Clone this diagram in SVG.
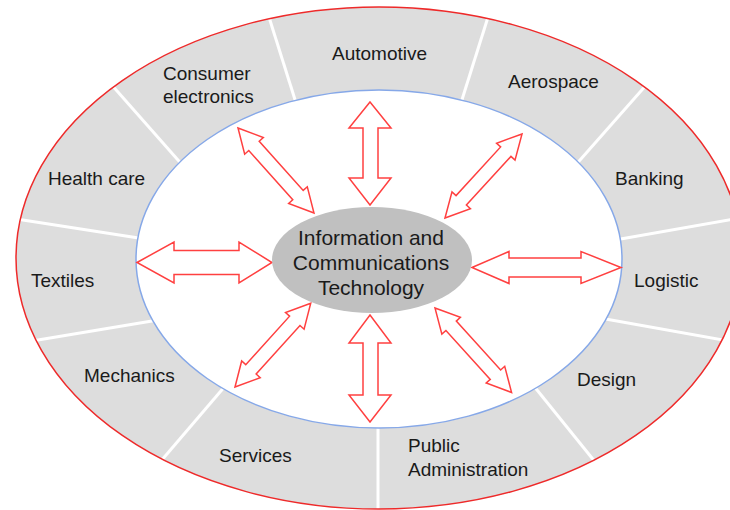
<svg xmlns="http://www.w3.org/2000/svg" width="730" height="510" viewBox="0 0 730 510">
<style>
.lbl{font-family:"Liberation Sans",Arial,sans-serif;font-size:19px;fill:#1a1a1a}
.ctr{font-family:"Liberation Sans",Arial,sans-serif;font-size:21px;fill:#1a1a1a;text-anchor:middle}
.div{stroke:#ffffff;stroke-width:3}
.arr{fill:#ffffff;stroke:#ff4040;stroke-width:1.5;stroke-linejoin:miter}
</style>
<defs>
<polygon id="diag" points="0,0 24,-12.5 24,-7 90,-7 90,-12.5 114,0 90,12.5 90,7 24,7 24,12.5"/>
</defs>
<rect x="0" y="0" width="730" height="510" fill="#ffffff"/>
<g id="ring">
<ellipse cx="379" cy="258" rx="363" ry="251" fill="#dddddd"/>
<g id="dividers">
<line class="div" x1="185" y1="168" x2="110" y2="83"/>
<line class="div" x1="297" y1="106" x2="268" y2="14"/>
<line class="div" x1="460" y1="106" x2="489" y2="14"/>
<line class="div" x1="573" y1="168" x2="648" y2="83"/>
<line class="div" x1="615" y1="240" x2="745" y2="217"/>
<line class="div" x1="145" y1="239" x2="10" y2="218"/>
<line class="div" x1="158" y1="320" x2="20" y2="343"/>
<line class="div" x1="226" y1="385" x2="155" y2="468"/>
<line class="div" x1="378" y1="425" x2="378" y2="515"/>
<line class="div" x1="533" y1="385" x2="600" y2="468"/>
<line class="div" x1="600" y1="318" x2="740" y2="343"/>
</g>
<ellipse cx="379" cy="259" rx="243" ry="169" fill="#ffffff" stroke="#86a8e8" stroke-width="1.5"/>
<ellipse cx="379" cy="258" rx="363" ry="251" fill="none" stroke="#ee2a2a" stroke-width="1.5"/>
</g>
<g id="connectors">
<polygon class="arr" points="370,102 391,128 378,128 378,178 391,178 370,205 349,178 363,178 363,128 349,128"/>
<polygon class="arr" points="370,315 391,343 378,343 378,395 391,395 370,422 349,395 363,395 363,343 349,343"/>
<polygon class="arr" points="137,262.5 174,242 174,250.5 239,250.5 239,242 272,262.5 239,283 239,274.5 174,274.5 174,283"/>
<polygon class="arr" points="472,267.5 509,251.5 509,258 581,258 581,251.5 621,267.5 581,283.5 581,277 509,277 509,283.5"/>
<use href="#diag" class="arr" transform="translate(238,128) rotate(48.2)"/>
<use href="#diag" class="arr" transform="translate(445,218) rotate(-47.5)"/>
<use href="#diag" class="arr" transform="translate(235,387) rotate(-47.9) scale(0.991,1)"/>
<use href="#diag" class="arr" transform="translate(435,308) rotate(47.8)"/>
</g>
<g id="ict">
<ellipse cx="372" cy="260" rx="100" ry="53" fill="#c0c0c0"/>
<text class="ctr" x="371" y="245">Information and</text>
<text class="ctr" x="371" y="270">Communications</text>
<text class="ctr" x="371" y="295">Technology</text>
</g>
<g id="automotive"><text class="lbl" x="332" y="60">Automotive</text></g>
<g id="consumer-electronics"><text class="lbl" x="163" y="80">Consumer</text><text class="lbl" x="163" y="103">electronics</text></g>
<g id="aerospace"><text class="lbl" x="508" y="88">Aerospace</text></g>
<g id="health-care"><text class="lbl" x="48" y="185">Health care</text></g>
<g id="banking"><text class="lbl" x="615" y="185">Banking</text></g>
<g id="textiles"><text class="lbl" x="31" y="287">Textiles</text></g>
<g id="logistic"><text class="lbl" x="634" y="287">Logistic</text></g>
<g id="mechanics"><text class="lbl" x="84" y="382">Mechanics</text></g>
<g id="design"><text class="lbl" x="577" y="386">Design</text></g>
<g id="services"><text class="lbl" x="219" y="462">Services</text></g>
<g id="public-administration"><text class="lbl" x="408" y="452">Public</text><text class="lbl" x="408" y="476">Administration</text></g>
</svg>
